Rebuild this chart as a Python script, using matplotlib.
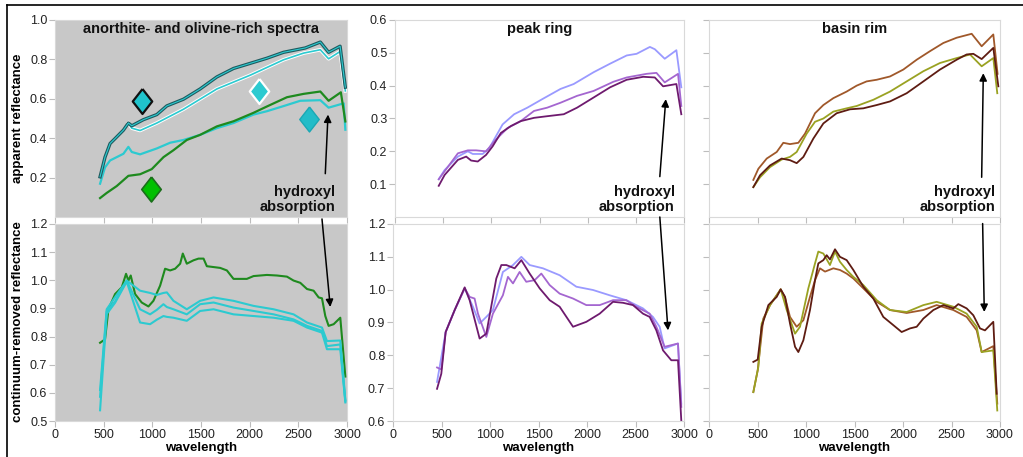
import matplotlib
matplotlib.use("Agg")
import matplotlib.pyplot as plt
from matplotlib.patches import ConnectionPatch
from matplotlib.lines import Line2D

plt.rcParams['font.family'] = ['Liberation Sans', 'DejaVu Sans']

# ---------------- data ----------------
# Left column, apparent reflectance
al_top_wl = [463, 514, 566, 617, 703, 754, 789, 908, 1046, 1149, 1320, 1491, 1663, 1834, 2006, 2177, 2348, 2520, 2571, 2726, 2811, 2929, 2983]
al_top_r = [0.204, 0.304, 0.373, 0.398, 0.441, 0.477, 0.463, 0.494, 0.520, 0.564, 0.598, 0.650, 0.711, 0.754, 0.780, 0.806, 0.836, 0.853, 0.858, 0.888, 0.836, 0.867, 0.659]
al_w_wl = [754, 789, 874, 1046, 1320, 1663, 2006, 2348, 2554, 2726, 2811, 2929, 2983]
al_w_r = [0.477, 0.451, 0.439, 0.477, 0.547, 0.650, 0.720, 0.798, 0.832, 0.849, 0.803, 0.840, 0.640]
al_c_wl = [463, 514, 566, 703, 754, 789, 874, 1046, 1183, 1320, 1491, 1663, 1834, 2040, 2177, 2348, 2520, 2726, 2811, 2966, 2983]
al_c_r = [0.169, 0.252, 0.287, 0.321, 0.356, 0.330, 0.318, 0.348, 0.377, 0.391, 0.417, 0.451, 0.477, 0.520, 0.537, 0.563, 0.590, 0.593, 0.555, 0.577, 0.443]
al_g_wl = [463, 531, 634, 754, 874, 994, 1115, 1217, 1354, 1491, 1663, 1834, 2040, 2177, 2383, 2554, 2726, 2811, 2937, 2983]
al_g_r = [0.096, 0.122, 0.157, 0.209, 0.217, 0.243, 0.304, 0.339, 0.391, 0.417, 0.460, 0.486, 0.529, 0.561, 0.608, 0.625, 0.637, 0.590, 0.633, 0.485]

# Left column, continuum removed
cl_g_wl = [463, 514, 549, 617, 686, 730, 754, 778, 823, 891, 960, 1011, 1080, 1131, 1183, 1234, 1286, 1313, 1354, 1423, 1474, 1526, 1560, 1697, 1766, 1834, 1971, 2040, 2177, 2280, 2383, 2451, 2520, 2589, 2657, 2709, 2743, 2777, 2811, 2863, 2931, 2983]
cl_g_r = [0.778, 0.790, 0.897, 0.951, 0.975, 1.023, 0.999, 1.017, 0.951, 0.921, 0.907, 0.927, 0.981, 1.041, 1.035, 1.041, 1.059, 1.095, 1.059, 1.071, 1.077, 1.077, 1.050, 1.044, 1.035, 1.005, 1.005, 1.015, 1.019, 1.017, 1.013, 0.999, 0.991, 0.969, 0.963, 0.939, 0.936, 0.873, 0.838, 0.844, 0.867, 0.658]
cl_c_wl = [463, 531, 617, 737, 874, 977, 1046, 1114, 1149, 1217, 1354, 1491, 1629, 1834, 2040, 2246, 2451, 2589, 2743, 2794, 2931, 2983]
cl_c1_r = [0.610, 0.897, 0.940, 0.999, 0.963, 0.955, 0.948, 0.955, 0.957, 0.927, 0.897, 0.927, 0.939, 0.927, 0.909, 0.897, 0.879, 0.850, 0.832, 0.784, 0.786, 0.574]
cl_c2_r = [0.586, 0.890, 0.925, 0.999, 0.897, 0.879, 0.895, 0.915, 0.905, 0.897, 0.879, 0.915, 0.921, 0.903, 0.891, 0.879, 0.861, 0.838, 0.820, 0.766, 0.772, 0.570]
cl_c3_r = [0.538, 0.880, 0.920, 0.995, 0.850, 0.844, 0.860, 0.873, 0.870, 0.867, 0.856, 0.891, 0.897, 0.879, 0.873, 0.867, 0.856, 0.832, 0.814, 0.755, 0.755, 0.566]

# Middle column (peak ring), apparent reflectance
pm_lb_wl = [454, 515, 653, 756, 807, 910, 979, 1048, 1117, 1237, 1374, 1529, 1718, 1855, 2062, 2233, 2405, 2508, 2646, 2697, 2800, 2921, 2972]
pm_lb_r = [0.115, 0.143, 0.184, 0.200, 0.192, 0.192, 0.210, 0.246, 0.282, 0.313, 0.333, 0.359, 0.390, 0.405, 0.441, 0.467, 0.492, 0.497, 0.518, 0.511, 0.482, 0.508, 0.395]
pm_mp_wl = [454, 653, 756, 842, 945, 1048, 1168, 1305, 1443, 1580, 1718, 1890, 2062, 2268, 2405, 2611, 2714, 2800, 2938, 2972]
pm_mp_r = [0.115, 0.194, 0.203, 0.203, 0.200, 0.236, 0.271, 0.292, 0.323, 0.333, 0.348, 0.369, 0.384, 0.412, 0.425, 0.436, 0.439, 0.410, 0.436, 0.338]
pm_dp_wl = [454, 515, 653, 739, 790, 859, 945, 1013, 1099, 1203, 1305, 1443, 1580, 1752, 1890, 2062, 2233, 2405, 2577, 2697, 2783, 2921, 2972]
pm_dp_r = [0.095, 0.128, 0.174, 0.184, 0.172, 0.169, 0.189, 0.215, 0.256, 0.277, 0.292, 0.302, 0.307, 0.313, 0.333, 0.364, 0.395, 0.418, 0.427, 0.425, 0.398, 0.405, 0.313]

# Middle column, continuum removed
cm_dp_wl = [454, 498, 543, 636, 739, 790, 893, 962, 1065, 1117, 1168, 1254, 1323, 1409, 1512, 1615, 1718, 1856, 1993, 2131, 2268, 2371, 2474, 2577, 2646, 2715, 2784, 2869, 2938, 2972]
cm_dp_r = [0.698, 0.744, 0.871, 0.938, 1.007, 0.968, 0.851, 0.866, 1.034, 1.075, 1.075, 1.065, 1.090, 1.049, 1.004, 0.968, 0.948, 0.887, 0.902, 0.927, 0.963, 0.960, 0.953, 0.927, 0.917, 0.876, 0.815, 0.785, 0.785, 0.602]
cm_mp_wl = [454, 498, 543, 636, 739, 790, 841, 876, 962, 1030, 1133, 1185, 1237, 1305, 1374, 1460, 1529, 1615, 1718, 1856, 1993, 2131, 2268, 2405, 2508, 2646, 2715, 2800, 2938, 2972]
cm_mp_r = [0.763, 0.757, 0.871, 0.938, 1.004, 0.978, 0.973, 0.927, 0.856, 0.927, 0.983, 1.039, 1.019, 1.054, 1.024, 1.029, 1.049, 1.014, 0.988, 0.973, 0.953, 0.953, 0.968, 0.968, 0.948, 0.927, 0.887, 0.826, 0.836, 0.643]
cm_lb_wl = [454, 543, 636, 739, 824, 893, 962, 1030, 1133, 1237, 1323, 1409, 1546, 1718, 1890, 2062, 2233, 2405, 2577, 2680, 2749, 2800, 2938, 2972]
cm_lb_r = [0.719, 0.871, 0.938, 1.004, 0.948, 0.897, 0.917, 0.938, 1.054, 1.075, 1.100, 1.075, 1.065, 1.044, 1.009, 0.999, 0.983, 0.968, 0.943, 0.917, 0.887, 0.821, 0.836, 0.653]

# Right column (basin rim), apparent reflectance
br_or_wl = [457, 509, 595, 698, 766, 835, 921, 990, 1093, 1179, 1282, 1419, 1522, 1625, 1729, 1866, 2003, 2141, 2278, 2416, 2553, 2708, 2811, 2931, 2975]
br_or_r = [0.113, 0.147, 0.178, 0.198, 0.226, 0.222, 0.226, 0.254, 0.316, 0.341, 0.362, 0.382, 0.400, 0.413, 0.418, 0.428, 0.449, 0.479, 0.505, 0.530, 0.546, 0.558, 0.520, 0.556, 0.436]
br_ol_wl = [457, 526, 629, 749, 835, 904, 1007, 1093, 1179, 1282, 1419, 1522, 1694, 1866, 2038, 2210, 2381, 2553, 2691, 2811, 2931, 2972]
br_ol_r = [0.091, 0.121, 0.152, 0.175, 0.183, 0.198, 0.254, 0.290, 0.300, 0.321, 0.331, 0.338, 0.357, 0.382, 0.413, 0.444, 0.469, 0.484, 0.495, 0.459, 0.484, 0.377]
br_db_wl = [457, 526, 629, 749, 835, 904, 973, 1076, 1179, 1316, 1454, 1591, 1729, 1866, 2038, 2210, 2381, 2553, 2656, 2725, 2811, 2931, 2983]
br_db_r = [0.091, 0.127, 0.157, 0.178, 0.173, 0.164, 0.183, 0.239, 0.285, 0.316, 0.328, 0.331, 0.341, 0.352, 0.377, 0.413, 0.449, 0.479, 0.495, 0.497, 0.481, 0.515, 0.398]

# Right column, continuum removed
cr_db_wl = [457, 502, 543, 612, 698, 739, 784, 835, 887, 921, 973, 1041, 1093, 1127, 1179, 1213, 1247, 1299, 1350, 1419, 1488, 1591, 1694, 1797, 1900, 1986, 2072, 2141, 2210, 2313, 2416, 2519, 2570, 2656, 2725, 2794, 2845, 2931, 2966]
cr_db_r = [0.780, 0.787, 0.887, 0.953, 0.978, 1.001, 0.978, 0.897, 0.826, 0.810, 0.846, 0.938, 1.029, 1.080, 1.090, 1.105, 1.092, 1.123, 1.100, 1.090, 1.060, 1.009, 0.973, 0.917, 0.892, 0.871, 0.882, 0.887, 0.912, 0.938, 0.953, 0.943, 0.956, 0.943, 0.922, 0.882, 0.876, 0.902, 0.683]
cr_or_wl = [457, 502, 560, 629, 698, 739, 784, 835, 904, 973, 1041, 1093, 1144, 1196, 1282, 1350, 1419, 1488, 1591, 1729, 1866, 2038, 2210, 2347, 2519, 2656, 2760, 2811, 2931, 2972]
cr_or_r = [0.688, 0.754, 0.912, 0.953, 0.983, 1.001, 0.976, 0.917, 0.887, 0.907, 0.978, 1.029, 1.065, 1.055, 1.065, 1.060, 1.049, 1.034, 1.004, 0.963, 0.938, 0.929, 0.938, 0.953, 0.938, 0.917, 0.876, 0.810, 0.828, 0.653]
cr_ol_wl = [457, 509, 543, 629, 739, 801, 887, 938, 1024, 1093, 1127, 1179, 1247, 1299, 1350, 1419, 1488, 1591, 1729, 1866, 2038, 2210, 2347, 2519, 2656, 2760, 2811, 2931, 2972]
cr_ol_r = [0.688, 0.765, 0.897, 0.953, 1.001, 0.938, 0.866, 0.887, 1.004, 1.080, 1.116, 1.110, 1.075, 1.116, 1.085, 1.060, 1.039, 1.014, 0.968, 0.938, 0.932, 0.953, 0.963, 0.948, 0.927, 0.887, 0.810, 0.815, 0.632]

# diamond symbols in the left panel
dia_wl = [895, 2091, 2605, 987]
dia_r = [0.588, 0.642, 0.498, 0.140]

titles = ["anorthite- and olivine-rich spectra", "peak ring", "basin rim"]
x_ticks = [0, 500, 1000, 1500, 2000, 2500, 3000]

# ---------------- layout ----------------
W, H = 1023, 457
fig = plt.figure(figsize=(W / 100, H / 100), dpi=100)


def rect(x0, y0, x1, y1):
    return [x0 / W, 1 - y1 / H, (x1 - x0) / W, (y1 - y0) / H]


GRAY = '#c8c8c8'
SPINE = '#d9d9d9'
CYAN = '#2ccad0'
TEAL_D = '#1f5a5e'
GREEN = '#1e8a1e'
LBLUE = '#9a9aff'
MPURP = '#a466d0'
DPURP = '#6e1a6e'
ORBR = '#a0582a'
OLIVE = '#9aa222'
DBRN = '#5e1c12'

ax_tl = fig.add_axes(rect(55, 20, 347, 217))
ax_bl = fig.add_axes(rect(55, 224, 347, 421))
ax_tm = fig.add_axes(rect(395, 20, 684, 217))
ax_bm = fig.add_axes(rect(393, 224, 684, 421))
ax_tr = fig.add_axes(rect(709, 20, 1000, 217))
ax_br = fig.add_axes(rect(709, 224, 1000, 421))

tops = [ax_tl, ax_tm, ax_tr]
bots = [ax_bl, ax_bm, ax_br]

for ax in tops + bots:
    ax.set_xlim(0, 3000)
    ax.set_xticks(x_ticks)
    for s in ax.spines.values():
        s.set_color(SPINE)
        s.set_linewidth(0.8)
    ax.tick_params(direction='out', length=4, color='#bdbdbd', width=0.8,
                   labelsize=9, labelcolor='#222222', pad=1.5)

for ax in (ax_tl, ax_bl):
    ax.set_facecolor(GRAY)

for ax in tops:
    ax.tick_params(labelbottom=False)

ax_tl.set_ylim(0, 1.0)
ax_tl.set_yticks([0.2, 0.4, 0.6, 0.8, 1.0])
ax_tl.set_yticklabels(['0.2', '0.4', '0.6', '0.8', '1.0'])
for ax in (ax_tm, ax_tr):
    ax.set_ylim(0, 0.6)
    ax.set_yticks([0.1, 0.2, 0.3, 0.4, 0.5, 0.6])
ax_tm.set_yticklabels(['0.1', '0.2', '0.3', '0.4', '0.5', '0.6'])
ax_tr.tick_params(labelleft=False)

ax_bl.set_ylim(0.5, 1.2)
ax_bl.set_yticks([0.5, 0.6, 0.7, 0.8, 0.9, 1.0, 1.1, 1.2])
ax_bl.set_yticklabels(['0.5', '0.6', '0.7', '0.8', '0.9', '1.0', '1.1', '1.2'])
for ax in (ax_bm, ax_br):
    ax.set_ylim(0.6, 1.2)
    ax.set_yticks([0.6, 0.7, 0.8, 0.9, 1.0, 1.1, 1.2])
ax_bm.set_yticklabels(['0.6', '0.7', '0.8', '0.9', '1.0', '1.1', '1.2'])
ax_br.tick_params(labelleft=False)

for ax in bots:
    ax.set_xlabel('wavelength', fontsize=9.5, fontweight='bold', labelpad=1)

fig.text(18 / W, 1 - 118 / H, 'apparent reflectance', rotation=90, ha='center', va='center',
         fontsize=9.5, fontweight='bold')
fig.text(18 / W, 1 - 322 / H, 'continuum-removed reflectance', rotation=90, ha='center', va='center',
         fontsize=9.5, fontweight='bold')

# ---------------- curves ----------------
LW = 1.3
# left top
ax_tl.plot(al_top_wl, al_top_r, color=TEAL_D, lw=2.4, zorder=3)
ax_tl.plot(al_top_wl, al_top_r, color=CYAN, lw=0.8, zorder=4)
ax_tl.plot(al_w_wl, al_w_r, color='white', lw=2.6, zorder=2)
ax_tl.plot(al_w_wl, al_w_r, color=CYAN, lw=1.2, zorder=2.5)
ax_tl.plot(al_c_wl, al_c_r, color=CYAN, lw=1.6, zorder=2)
ax_tl.plot(al_g_wl, al_g_r, color=GREEN, lw=1.6, zorder=2)

dmark = [(0, 1), (0.78, 0), (0, -1), (-0.78, 0), (0, 1)]
ax_tl.plot(dia_wl[0], dia_r[0], marker=dmark, ms=18, mfc='#20c4cc', mec='#111111', mew=1.6, ls='none', zorder=5)
ax_tl.plot(dia_wl[1], dia_r[1], marker=dmark, ms=18, mfc='#2ccad0', mec='white', mew=1.6, ls='none', zorder=5)
ax_tl.plot(dia_wl[2], dia_r[2], marker=dmark, ms=18, mfc='#22bcc8', mec='#1aa8b4', mew=1.0, ls='none', zorder=5)
ax_tl.plot(dia_wl[3], dia_r[3], marker=dmark, ms=18, mfc='#00c000', mec='#1a6e1a', mew=1.2, ls='none', zorder=5)

# left bottom
ax_bl.plot(cl_g_wl, cl_g_r, color=GREEN, lw=1.5)
ax_bl.plot(cl_c_wl, cl_c1_r, color=CYAN, lw=1.5)
ax_bl.plot(cl_c_wl, cl_c2_r, color=CYAN, lw=1.5)
ax_bl.plot(cl_c_wl, cl_c3_r, color=CYAN, lw=1.5)

# middle
ax_tm.plot(pm_lb_wl, pm_lb_r, color=LBLUE, lw=LW)
ax_tm.plot(pm_mp_wl, pm_mp_r, color=MPURP, lw=LW)
ax_tm.plot(pm_dp_wl, pm_dp_r, color=DPURP, lw=LW)
ax_bm.plot(cm_lb_wl, cm_lb_r, color=LBLUE, lw=LW)
ax_bm.plot(cm_mp_wl, cm_mp_r, color=MPURP, lw=LW)
ax_bm.plot(cm_dp_wl, cm_dp_r, color=DPURP, lw=LW)

# right
ax_tr.plot(br_or_wl, br_or_r, color=ORBR, lw=LW)
ax_tr.plot(br_ol_wl, br_ol_r, color=OLIVE, lw=LW)
ax_tr.plot(br_db_wl, br_db_r, color=DBRN, lw=LW)
ax_br.plot(cr_or_wl, cr_or_r, color=ORBR, lw=LW)
ax_br.plot(cr_ol_wl, cr_ol_r, color=OLIVE, lw=LW)
ax_br.plot(cr_db_wl, cr_db_r, color=DBRN, lw=LW)

# ---------------- titles / annotations ----------------
for ax, t in zip(tops, titles):
    ax.text(0.5, 0.935, t, transform=ax.transAxes, ha='center', va='baseline',
            fontsize=10.5, fontweight='bold', color='#111111')

text_right = [2880, 2904, 2948]
for ax, xr in zip(tops, text_right):
    ax.text(xr, 0, 'hydroxyl', transform=ax.transData, ha='right', va='baseline',
            fontsize=10.5, fontweight='bold', color='#111111', zorder=6)
    ax.text(xr, 0, 'absorption', transform=ax.transData, ha='right', va='baseline',
            fontsize=10.5, fontweight='bold', color='#111111', zorder=6)

# arrows: (tail top-axis, head top-axis) and (tail top-axis, head bottom-axis)
top_arrows = [((2777, 0.22), (2805, 0.52)), ((2749, 0.123), (2811, 0.359)), ((2811, 0.121), (2828, 0.438))]
bot_arrows = [((2743, -0.01), (2828, 0.905)), ((2749, 0.0), (2835, 0.876)), ((2821, -0.02), (2838, 0.932))]

for axt, axb, (ta, ha), (tb, hb) in zip(tops, bots, top_arrows, bot_arrows):
    c1 = ConnectionPatch(xyA=ta, coordsA=axt.transData, xyB=ha, coordsB=axt.transData,
                         arrowstyle='-|>', mutation_scale=11, lw=1.1, color='black', zorder=10)
    fig.add_artist(c1)
    c2 = ConnectionPatch(xyA=tb, coordsA=axt.transData, xyB=hb, coordsB=axb.transData,
                         arrowstyle='-|>', mutation_scale=11, lw=1.1, color='black', zorder=10)
    fig.add_artist(c2)

# place the two text lines using figure pixel baselines
fig.canvas.draw()
for ax in tops:
    texts = [t for t in ax.texts if t.get_text() in ('hydroxyl', 'absorption')]
    for t in texts:
        xr = t.get_position()[0]
        xpix = ax.transData.transform((xr, 0))[0]
        ybase = 196 if t.get_text() == 'hydroxyl' else 211.5
        t.set_transform(fig.transFigure)
        t.set_position((xpix / W, 1 - ybase / H))

# outer frame (top and left border)
fig.add_artist(Line2D([7 / W, 1.0], [1 - 5 / H, 1 - 5 / H], color='black', lw=1.2, transform=fig.transFigure))
fig.add_artist(Line2D([7 / W, 7 / W], [0, 1 - 5 / H], color='black', lw=1.2, transform=fig.transFigure))

fig.savefig('out.png', dpi=100)
